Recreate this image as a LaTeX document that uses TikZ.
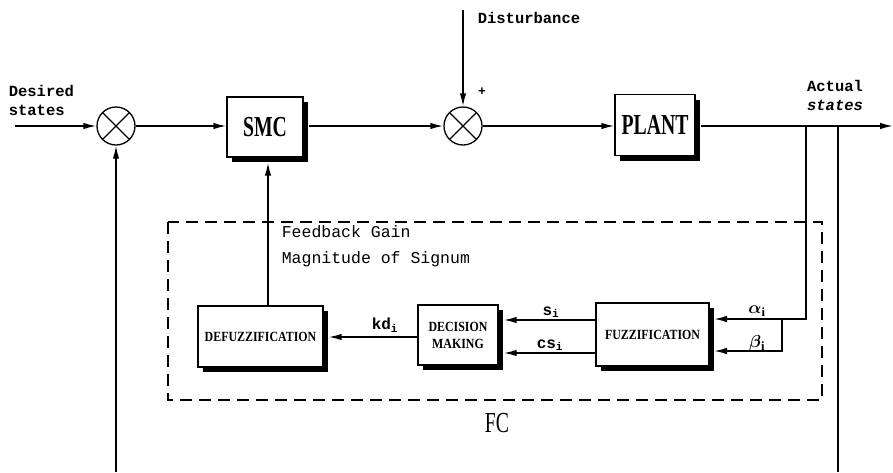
\documentclass[tikz,border=0pt]{standalone}
\usepackage{amsmath}
\usepackage{fontspec}
\setmainfont{Liberation Serif}
\newfontfamily\mono{Liberation Mono}
\newfontfamily\condbig[FakeStretch=0.68]{Liberation Serif}
\newfontfamily\condsmall[FakeStretch=0.85]{Liberation Serif}
\usetikzlibrary{arrows.meta,shadows}
\begin{document}
\begin{tikzpicture}[x=1pt,y=-1pt,
  line width=1.6pt,
  arr/.style={-{Latex[length=13pt,width=6.5pt]}},
  sumnode/.style={circle,draw,line width=1.3pt,minimum size=38pt,inner sep=0pt,fill=white,
    path picture={\draw[line width=1.3pt] (path picture bounding box.north west) -- (path picture bounding box.south east)
      (path picture bounding box.north east) -- (path picture bounding box.south west);}},
  bigbox/.style={rectangle,draw,line width=1.3pt,fill=white,inner sep=0pt,
    drop shadow={shadow xshift=5pt,shadow yshift=-5pt,fill=black,opacity=1},
    font=\condbig\bfseries\fontsize{29}{30}\selectfont},
  smallbox/.style={rectangle,draw,line width=1.3pt,fill=white,inner sep=0pt,align=center,
    drop shadow={shadow xshift=5pt,shadow yshift=-5pt,fill=black,opacity=1},
    font=\condsmall\bfseries\fontsize{14}{17}\selectfont},
  lbl/.style={font=\mono\bfseries\fontsize{15.5}{20}\selectfont,inner sep=0pt},
  sublbl/.style={font=\mono\bfseries\fontsize{16}{18}\selectfont,inner sep=0pt},
  fcbox/.style={draw,line width=1.6pt,dash pattern=on 12pt off 7pt}
]
\useasboundingbox (0,0) rectangle (893,472);

% dashed FC frame
\draw[fcbox] (168,222) rectangle (822,400);

% nodes
\node[sumnode] (s1) at (116,126) {};
\node[sumnode] (s2) at (463,126) {};
\node[bigbox,minimum width=76pt,minimum height=60pt] (smc) at (265,127) {SMC};
\node[bigbox,minimum width=80pt,minimum height=61pt] (plant) at (655,125) {PLANT};
\node[smallbox,minimum width=113pt,minimum height=63pt] (fuzz) at (652.5,334.5) {FUZZIFICATION};
\node[smallbox,minimum width=80pt,minimum height=60pt] (dec) at (458,335) {DECISION\\MAKING};
\node[smallbox,minimum width=125pt,minimum height=61pt] (defuzz) at (260.5,336.5) {DEFUZZIFICATION};

% coordinates
\coordinate (in) at (15,126);
\coordinate (dist) at (463,10);
\coordinate (out) at (893,126);
\coordinate (ba) at (806,126);
\coordinate (baa) at (806,319);
\coordinate (bb) at (782,319);
\coordinate (bbb) at (782,351);
\coordinate (fa) at (714,319);
\coordinate (fb) at (714,351);
\coordinate (rc) at (838,126);
\coordinate (rcb) at (838,472);
\coordinate (lcb) at (116,472);
\coordinate (fbx) at (268,0);
\coordinate (mainy) at (0,126);

% connectors
\draw[arr] (in) -- (s1.west);
\draw[arr] (s1.east) -- (smc.west |- mainy);
\draw[arr] ([xshift=5pt]smc.east |- mainy) -- (s2.west);
\draw[arr] (dist) -- (s2.north);
\draw[arr] (s2.east) -- (plant.west |- mainy);
\draw[arr] ([xshift=5pt]plant.east |- mainy) -- (out);
\draw (rc) -- (rcb);
\draw[arr] (lcb) -- (s1.south);
\draw[arr] (ba) -- (baa) -- (fa);
\draw[arr] (bb) -- (bbb) -- (fb);
\draw[arr] (fuzz.west |- 0,320) -- ([xshift=5pt]dec.east |- 0,320);
\draw[arr] (fuzz.west |- 0,353) -- ([xshift=5pt]dec.east |- 0,353);
\draw[arr] (dec.west |- 0,337) -- ([xshift=5pt]defuzz.east |- 0,337);
\draw[arr] (defuzz.north -| fbx) -- ([yshift=-5pt]smc.south -| fbx);

% labels
\node[lbl,anchor=west,align=left,font=\mono\bfseries\fontsize{15.5}{19}\selectfont] (desired) at (8,100) {Desired\\states};
\node[lbl,anchor=west] (disturb) at (477,18) {Disturbance};
\node[lbl,align=center,font=\mono\bfseries\fontsize{15.5}{19}\selectfont] (actual) at (835,95) {Actual\\\itshape states};
\node[font=\mono\bfseries\fontsize{13}{14}\selectfont,inner sep=0pt] (plus) at (482,92) {+};
\node[anchor=west,align=left,inner sep=0pt,font=\mono\fontsize{16.5}{26}\selectfont] (fbtext) at (281,246) {Feedback Gain\\Magnitude of Signum};
\node[sublbl] (kd) at (385,325) {kd\textsubscript{i}};
\node[sublbl] (si) at (551,312) {s\textsubscript{i}};
\node[sublbl] (csi) at (550,345) {cs\textsubscript{i}};
\node[inner sep=0pt,font=\fontsize{18}{18}\selectfont] (al) at (757,311) {$\boldsymbol{\alpha}_{\mathbf{i}}$};
\node[inner sep=0pt,font=\fontsize{18}{18}\selectfont] (be) at (757,343) {$\boldsymbol{\beta}_{\mathbf{i}}$};
\node[inner sep=0pt,font=\condbig\fontsize{29}{30}\selectfont] (fc) at (497,423) {FC};
\end{tikzpicture}
\end{document}
